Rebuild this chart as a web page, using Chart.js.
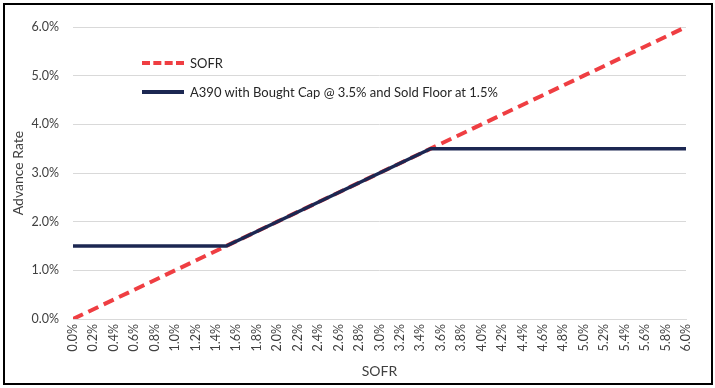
<!DOCTYPE html>
<html>
<head>
<meta charset="utf-8">
<script src="https://cdn.jsdelivr.net/npm/chart.js@4.4.1/dist/chart.umd.min.js"></script>
<style>
  body { margin: 0; background: #fff; font-family: Lato, "Open Sans", sans-serif; }
  #wrap { position: relative; width: 715px; height: 388px; }
  #frame { position: absolute; left: 3px; top: 3px; width: 706px; height: 378px; border: 2px solid #000; pointer-events: none; }
  .leg { position: absolute; left: 142px; font-size: 13px; color: #262626; display: flex; align-items: center; white-space: nowrap; }
  .leg .sw { width: 42px; height: 0; margin-right: 6px; }
</style>
</head>
<body>
<div id="wrap">
  <canvas id="chart" width="715" height="388"></canvas>
  <div id="frame"></div>
  <div class="leg" style="top:55px"><span class="sw" style="border-top:4px dashed #ef3e42"></span>SOFR</div>
  <div class="leg" style="top:84px"><span class="sw" style="border-top:4px solid #1c2752"></span>A390 with Bought Cap @ 3.5% and Sold Floor at 1.5%</div>
</div>
<script>
// x tick labels (SOFR, %)
const sofrLabels = ['0.0%','0.2%','0.4%','0.6%','0.8%','1.0%','1.2%','1.4%','1.6%','1.8%','2.0%',
  '2.2%','2.4%','2.6%','2.8%','3.0%','3.2%','3.4%','3.6%','3.8%','4.0%',
  '4.2%','4.4%','4.6%','4.8%','5.0%','5.2%','5.4%','5.6%','5.8%','6.0%'];

// SOFR series: x = SOFR level, y = advance rate (%)
const sofrX = [0.0, 1.0, 2.0, 3.0, 4.0, 5.0, 6.0];
const sofrY = [0.0, 1.0, 2.0, 3.0, 4.0, 5.0, 6.0];

// A390 with cap 3.5% / floor 1.5%
const a390X = [0.0, 1.5, 3.5, 6.0];
const a390Y = [1.5, 1.5, 3.5, 3.5];

const fontFam = 'Lato, "Open Sans", sans-serif';
const toPts = (xs, ys) => xs.map((x, i) => ({ x: x, y: ys[i] }));

const ctx = document.getElementById('chart').getContext('2d');
const chart = new Chart(ctx, {
    type: 'line',
    data: {
        datasets: [{
            label: 'SOFR',
            data: toPts(sofrX, sofrY),
            borderColor: '#ef3e42',
            borderWidth: 4,
            borderDash: [11, 6],
            pointRadius: 0,
            fill: false,
            order: 2
        }, {
            label: 'A390 with Bought Cap @ 3.5% and Sold Floor at 1.5%',
            data: toPts(a390X, a390Y),
            borderColor: '#1c2752',
            borderWidth: 3.5,
            pointRadius: 0,
            fill: false,
            order: 1
        }]
    },
    options: {
        animation: false,
        responsive: false,
        layout: { padding: { left: 0, right: 29, top: 27, bottom: 4 } },
        plugins: {
            legend: { display: false },
            tooltip: { enabled: false }
        },
        scales: {
            x: {
                type: 'linear',
                min: 0,
                max: 6,
                grid: { display: false, drawTicks: false },
                border: { display: true, color: '#d9d9d9', width: 1 },
                afterBuildTicks: s => { s.ticks = sofrLabels.map((l, i) => ({ value: i * 0.2 })); },
                ticks: {
                    autoSkip: false,
                    maxRotation: 90,
                    minRotation: 90,
                    padding: 5,
                    color: '#404040',
                    font: { family: fontFam, size: 12.5 },
                    callback: (v, i) => sofrLabels[i]
                },
                title: {
                    display: true,
                    text: 'SOFR',
                    color: '#404040',
                    font: { family: fontFam, size: 14 },
                    padding: { top: 3, bottom: 4 }
                },
                afterFit: s => { s.height = 65; }
            },
            y: {
                min: 0,
                max: 6,
                grid: { color: '#d9d9d9', drawTicks: false },
                border: { display: false },
                ticks: {
                    stepSize: 1,
                    padding: 14,
                    color: '#404040',
                    font: { family: fontFam, size: 12.5 },
                    callback: v => v.toFixed(1) + '%'
                },
                title: {
                    display: true,
                    text: 'Advance Rate',
                    color: '#404040',
                    font: { family: fontFam, size: 14 },
                    padding: { top: 10, bottom: 0 }
                },
                afterFit: s => { s.width = 73; }
            }
        }
    }
});
</script>
</body>
</html>
